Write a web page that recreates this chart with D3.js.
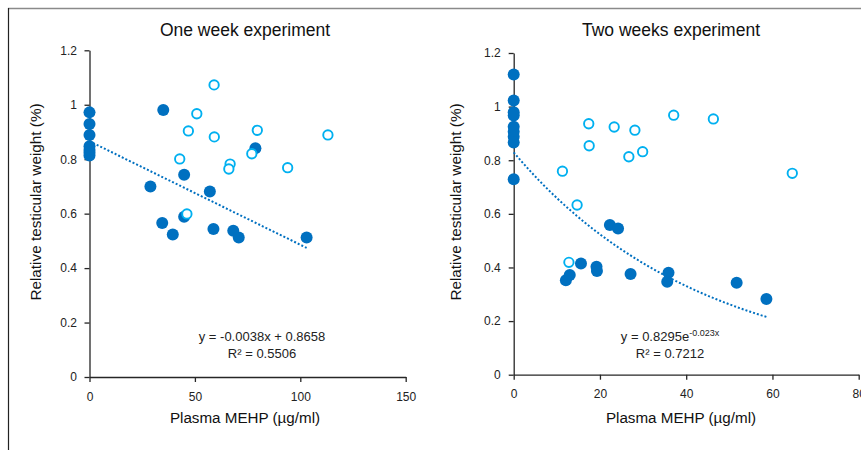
<!DOCTYPE html>
<html>
<head>
<meta charset="utf-8">
<script src="https://cdn.jsdelivr.net/npm/d3@7"></script>
<style>
  body { margin: 0; background: #fff; }
  svg { display: block; font-family: "Liberation Sans", Arial, sans-serif; }
</style>
</head>
<body>
<div id="chart-container"></div>
<script>
// One week experiment - filled (dark blue) series
var week1FilledX = [0, 0, 0, 0, 0, 0, 0, 35, 78.7, 44.9, 28.9, 57.1, 44.9, 34.5, 39.5, 58.8, 68.2, 70.8, 103];
var week1FilledY = [0.972, 0.929, 0.889, 0.848, 0.834, 0.824, 0.814, 0.981, 0.840, 0.743, 0.700, 0.681, 0.589, 0.566, 0.523, 0.544, 0.537, 0.512, 0.512];
// One week experiment - open (light blue) series
var week1OpenX = [59.1, 50.9, 46.9, 59.2, 79.6, 113.1, 42.8, 66.7, 66.1, 77, 94, 46.2];
var week1OpenY = [1.073, 0.967, 0.904, 0.882, 0.906, 0.889, 0.801, 0.782, 0.764, 0.820, 0.769, 0.599];

// Two weeks experiment - filled series
var week2FilledX = [0, 0, 0, 0, 0, 0, 0, 0, 0, 22.3, 24.2, 15.6, 12.1, 13.0, 19.2, 19.3, 27.1, 35.9, 35.6, 51.7, 58.6];
var week2FilledY = [1.12, 1.023, 0.979, 0.967, 0.925, 0.906, 0.888, 0.866, 0.729, 0.558, 0.545, 0.415, 0.352, 0.372, 0.403, 0.387, 0.376, 0.380, 0.347, 0.343, 0.282];
// Two weeks experiment - open series
var week2OpenX = [17.4, 23.3, 28.1, 37.1, 46.3, 17.5, 26.7, 29.9, 11.3, 64.6, 14.7, 12.8];
var week2OpenY = [0.936, 0.924, 0.912, 0.968, 0.954, 0.854, 0.813, 0.832, 0.759, 0.751, 0.633, 0.419];

// Trendline coefficients (from the chart labels)
var linearFit = [-0.0038, 0.8658];   // slope, intercept
var expFit = [0.8295, -0.023];       // a, b  in y = a*e^(b*x)

// Tick values
var yTicks = [0, 0.2, 0.4, 0.6, 0.8, 1, 1.2];
var week1XTicks = [0, 50, 100, 150];
var week2XTicks = [0, 20, 40, 60, 80];

var width = 861, height = 450;
var darkBlue = '#0070C0', lightBlue = '#00B0F0';

var svg = d3.select('#chart-container')
  .append('svg')
  .attr('width', width)
  .attr('height', height);

// Outer frame bits visible in the picture
svg.append('line')
  .attr('x1', 8).attr('x2', width).attr('y1', 8.5).attr('y2', 8.5)
  .attr('stroke', '#8a8a8a').attr('stroke-width', 1.6);
svg.append('line')
  .attr('x1', 8.5).attr('x2', 8.5).attr('y1', 8).attr('y2', height)
  .attr('stroke', '#222').attr('stroke-width', 1.2);

function zip(xs, ys) {
  return xs.map(function (x, i) { return { x: x, y: ys[i] }; });
}

// Draw one scatter panel
function drawPanel(opts) {
  var x = d3.scaleLinear().domain(opts.xDomain).range(opts.xRange);
  var y = d3.scaleLinear().domain([0, 1.2]).range(opts.yRange);

  var g = svg.append('g');

  // Axes
  var yAxis = g.append('g')
    .attr('transform', 'translate(' + opts.xRange[0] + ',0)')
    .call(d3.axisLeft(y).tickValues(yTicks).tickSize(5).tickSizeOuter(0).tickPadding(opts.yPad)
      .tickFormat(function (d) { return String(+d.toFixed(1)); }));
  var xAxis = g.append('g')
    .attr('transform', 'translate(0,' + opts.yRange[0] + ')')
    .call(d3.axisBottom(x).tickValues(opts.xTicks).tickSize(5).tickSizeOuter(0).tickPadding(10));

  [xAxis, yAxis].forEach(function (ax) {
    ax.selectAll('path, line').attr('stroke', '#262626').attr('stroke-width', 1.3);
    ax.selectAll('text').attr('fill', '#222').style('font-size', '12px')
      .style('font-family', '"Liberation Sans", Arial, sans-serif');
  });

  // Filled markers
  g.selectAll('.filled')
    .data(zip(opts.filledX, opts.filledY))
    .enter().append('circle')
    .attr('class', 'filled')
    .attr('cx', function (d) { return x(d.x); })
    .attr('cy', function (d) { return y(d.y); })
    .attr('r', 6)
    .attr('fill', darkBlue);

  // Open markers
  g.selectAll('.open')
    .data(zip(opts.openX, opts.openY))
    .enter().append('circle')
    .attr('class', 'open')
    .attr('cx', function (d) { return x(d.x); })
    .attr('cy', function (d) { return y(d.y); })
    .attr('r', 4.7)
    .attr('fill', '#fff')
    .attr('stroke', lightBlue)
    .attr('stroke-width', 1.9);

  // Dotted trendline over the filled series range
  var xMax = d3.max(opts.filledX);
  var trendPts = d3.range(0, 61).map(function (i) {
    var xv = xMax * i / 60;
    return [x(xv), y(opts.trend(xv))];
  });
  g.append('path')
    .attr('d', d3.line()(trendPts))
    .attr('fill', 'none')
    .attr('stroke', darkBlue)
    .attr('stroke-width', 2)
    .attr('stroke-dasharray', '2,2');

  // Title
  g.append('text')
    .attr('x', opts.titleX).attr('y', 36)
    .attr('text-anchor', 'middle')
    .style('font-size', '17.5px').attr('fill', '#111')
    .text(opts.title);

  // Axis titles
  g.append('text')
    .attr('transform', 'translate(' + opts.yLabelX + ',202) rotate(-90)')
    .attr('text-anchor', 'middle').attr('dy', '0.35em')
    .style('font-size', '15.3px').attr('fill', '#111')
    .text('Relative testicular weight (%)');
  g.append('text')
    .attr('x', opts.xLabelX).attr('y', 423)
    .attr('text-anchor', 'middle')
    .style('font-size', '15.2px').attr('fill', '#111')
    .text('Plasma MEHP (µg/ml)');

  // Equation labels
  var eq = g.append('text')
    .attr('x', opts.eqX).attr('y', 341)
    .attr('text-anchor', 'middle')
    .style('font-size', '13px').attr('fill', '#222');
  opts.equation(eq);
  g.append('text')
    .attr('x', opts.eqX).attr('y', 358)
    .attr('text-anchor', 'middle')
    .style('font-size', '13px').attr('fill', '#222')
    .text(opts.r2);
}

drawPanel({
  xDomain: [0, 150], xRange: [89.5, 405.7], yRange: [377, 50.3], yPad: 7.5,
  xTicks: week1XTicks,
  filledX: week1FilledX, filledY: week1FilledY,
  openX: week1OpenX, openY: week1OpenY,
  trend: function (v) { return linearFit[0] * v + linearFit[1]; },
  title: 'One week experiment', titleX: 245,
  yLabelX: 36, xLabelX: 245, eqX: 262,
  equation: function (t) { t.text('y = -0.0038x + 0.8658'); },
  r2: 'R² = 0.5506'
});

drawPanel({
  xDomain: [0, 80], xRange: [513.7, 858.7], yRange: [374.7, 53], yPad: 8,
  xTicks: week2XTicks,
  filledX: week2FilledX, filledY: week2FilledY,
  openX: week2OpenX, openY: week2OpenY,
  trend: function (v) { return expFit[0] * Math.exp(expFit[1] * v); },
  title: 'Two weeks experiment', titleX: 671,
  yLabelX: 456, xLabelX: 681, eqX: 670,
  equation: function (t) {
    t.append('tspan').text('y = 0.8295e');
    t.append('tspan').attr('dy', -5).style('font-size', '9px').text('-0.023x');
  },
  r2: 'R² = 0.7212'
});
</script>
</body>
</html>
